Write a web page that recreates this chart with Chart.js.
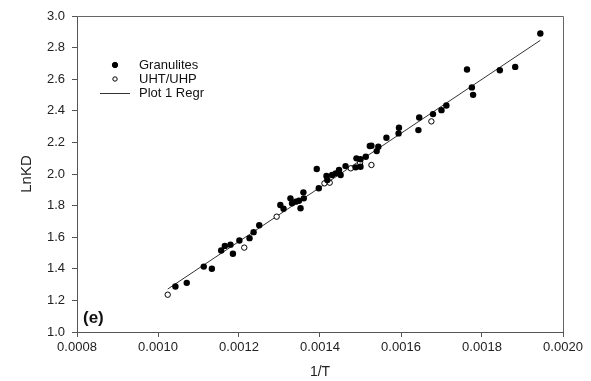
<!DOCTYPE html>
<html>
<head>
<meta charset="utf-8">
<script src="https://cdn.jsdelivr.net/npm/chart.js@4/dist/chart.umd.min.js"></script>
<style>
  html, body { margin: 0; padding: 0; background: #fff; }
  canvas { display: block; }
</style>
</head>
<body>
<canvas id="kdChart" width="591" height="381"></canvas>
<script>
// Granulites (filled dots)
const granX = [0.001043, 0.001071, 0.001113, 0.001133, 0.001156, 0.001165, 0.001179, 0.001185,
  0.001201, 0.001226, 0.001236, 0.001250, 0.001302, 0.001310, 0.001327, 0.001331, 0.001340,
  0.001348, 0.001352, 0.001359, 0.001360, 0.001392, 0.001397, 0.001416, 0.001418, 0.001430,
  0.001439, 0.001447, 0.001451, 0.001463, 0.001488, 0.001490, 0.001500, 0.001500, 0.001513,
  0.001523, 0.001527, 0.001540, 0.001544, 0.001564, 0.001594, 0.001595, 0.001643, 0.001645,
  0.001679, 0.001700, 0.001712, 0.001763, 0.001775, 0.001778, 0.001844, 0.001882, 0.001944];
const granY = [1.288, 1.311, 1.414, 1.400, 1.516, 1.545, 1.553, 1.495,
  1.579, 1.594, 1.632, 1.676, 1.804, 1.780, 1.846, 1.815, 1.825,
  1.831, 1.783, 1.884, 1.846, 2.032, 1.910, 1.987, 1.962, 1.994,
  2.004, 2.025, 1.994, 2.050, 2.042, 2.099, 2.046, 2.093, 2.109,
  2.177, 2.179, 2.145, 2.172, 2.229, 2.257, 2.293, 2.278, 2.358,
  2.379, 2.404, 2.434, 2.661, 2.548, 2.501, 2.657, 2.678, 2.889];

// UHT/UHP (open circles)
const uhtX = [0.001024, 0.001213, 0.001293, 0.001411, 0.001424, 0.001476, 0.001499, 0.001527, 0.001675];
const uhtY = [1.236, 1.534, 1.730, 1.941, 1.945, 2.036, 2.071, 2.057, 2.333];

// regression line end points
const regrX = [0.001024, 0.001944];
const regrY = [1.272, 2.846];

const xTicks = [0.0008, 0.0010, 0.0012, 0.0014, 0.0016, 0.0018, 0.0020];
const yTicks = [1.0, 1.2, 1.4, 1.6, 1.8, 2.0, 2.2, 2.4, 2.6, 2.8, 3.0];

const toPts = (xs, ys) => xs.map((x, i) => ({ x: x, y: ys[i] }));
const FONT = "'Liberation Sans', Arial, sans-serif";

// top/right frame, legend and panel tag
const decor = {
  id: 'decor',
  afterDraw(chart) {
    const { ctx, chartArea: a } = chart;
    ctx.save();
    ctx.strokeStyle = '#666';
    ctx.lineWidth = 1;
    ctx.beginPath();
    ctx.moveTo(a.left, a.top + 0.5);
    ctx.lineTo(a.right + 0.5, a.top + 0.5);
    ctx.lineTo(a.right + 0.5, a.bottom);
    ctx.stroke();

    ctx.font = '13px ' + FONT;
    ctx.textBaseline = 'middle';
    ctx.fillStyle = '#111';
    const sets = chart.data.datasets;
    const lx = 115, tx = 139;
    let ly = 65;
    sets.forEach(ds => {
      if (ds.type === 'line') {
        ctx.strokeStyle = ds.borderColor;
        ctx.lineWidth = 1;
        ctx.beginPath();
        ctx.moveTo(lx - 15, ly + 0.5);
        ctx.lineTo(lx + 15, ly + 0.5);
        ctx.stroke();
      } else {
        ctx.beginPath();
        ctx.arc(lx, ly, ds.pointRadius - 0.5, 0, Math.PI * 2);
        ctx.fillStyle = ds.backgroundColor;
        ctx.fill();
        ctx.strokeStyle = ds.borderColor;
        ctx.lineWidth = 1;
        ctx.stroke();
      }
      ctx.fillStyle = '#111';
      ctx.fillText(ds.label, tx, ly);
      ly += 14;
    });

    ctx.font = 'bold 17px ' + FONT;
    ctx.fillText('(e)', a.left + 6, a.bottom - 14);
    ctx.restore();
  }
};

new Chart(document.getElementById('kdChart'), {
  type: 'scatter',
  data: {
    datasets: [
      {
        label: 'Granulites',
        data: toPts(granX, granY),
        pointRadius: 3.2,
        pointBackgroundColor: '#000',
        backgroundColor: '#000',
        borderColor: '#000',
        pointBorderWidth: 0
      },
      {
        label: 'UHT/UHP',
        data: toPts(uhtX, uhtY),
        pointRadius: 2.7,
        pointBackgroundColor: '#fff',
        backgroundColor: '#fff',
        borderColor: '#000',
        pointBorderWidth: 1
      },
      {
        type: 'line',
        label: 'Plot 1 Regr',
        data: toPts(regrX, regrY),
        borderColor: '#333',
        borderWidth: 1,
        pointRadius: 0,
        fill: false
      }
    ]
  },
  options: {
    responsive: false,
    devicePixelRatio: 1,
    animation: false,
    layout: { padding: { top: 16, right: 28, left: 0, bottom: 0 } },
    plugins: {
      legend: { display: false },
      tooltip: { enabled: false }
    },
    scales: {
      x: {
        type: 'linear',
        min: 0.0008,
        max: 0.0020,
        afterBuildTicks: s => { s.ticks = xTicks.map(v => ({ value: v })); },
        afterFit: s => { s.height = 49; },
        grid: { drawOnChartArea: false, tickLength: 5, color: '#555' },
        border: { color: '#555', width: 1 },
        ticks: {
          color: '#222',
          font: { family: FONT, size: 13 },
          padding: 3,
          maxRotation: 0,
          callback: v => Number(v).toFixed(4)
        },
        title: {
          display: true,
          text: '1/T',
          color: '#222',
          font: { family: FONT, size: 14 },
          padding: { top: 3, bottom: 0 }
        }
      },
      y: {
        type: 'linear',
        min: 1.0,
        max: 3.0,
        afterBuildTicks: s => { s.ticks = yTicks.map(v => ({ value: v })); },
        afterFit: s => { s.width = 77; },
        grid: { drawOnChartArea: false, tickLength: 5, color: '#555' },
        border: { color: '#555', width: 1 },
        ticks: {
          color: '#222',
          font: { family: FONT, size: 13 },
          padding: 7,
          callback: v => Number(v).toFixed(1)
        },
        title: {
          display: true,
          text: 'LnKD',
          color: '#222',
          font: { family: FONT, size: 15 },
          padding: { top: 18, bottom: 0 }
        }
      }
    }
  },
  plugins: [decor]
});
</script>
</body>
</html>
